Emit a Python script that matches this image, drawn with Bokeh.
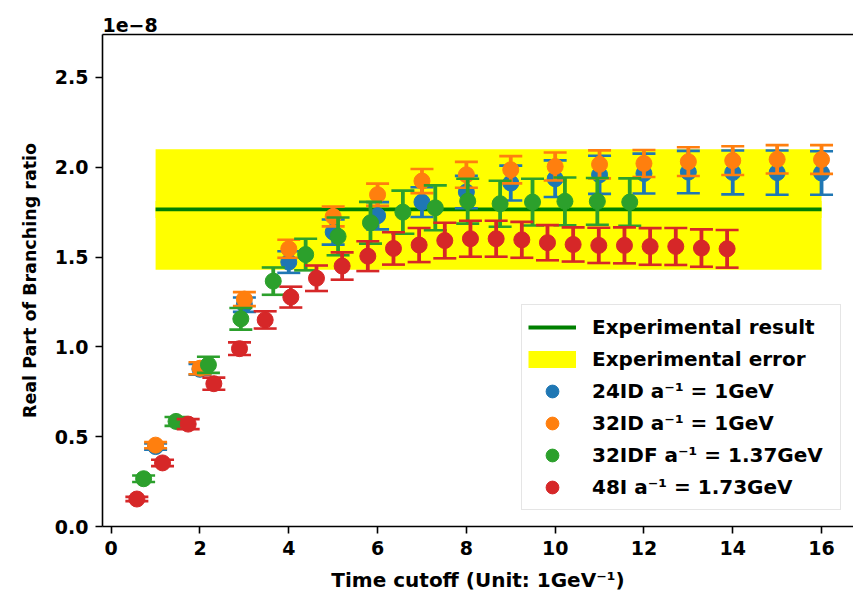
from bokeh.plotting import figure
from bokeh.models import (Range1d, LinearAxis, FixedTicker, Legend, LegendItem,
                          PrintfTickFormatter)
from bokeh.embed import file_html
from bokeh.resources import INLINE

# ---------------- data (values in units of 1e-8) ----------------
x_24id = [1, 2, 3, 4, 5, 6, 7, 8, 9, 10, 11, 12, 13, 14, 15, 16]
y_24id = [0.445, 0.875, 1.235, 1.472, 1.639, 1.730, 1.806, 1.862, 1.912, 1.936,
          1.958, 1.965, 1.973, 1.971, 1.970, 1.968]
e_24id = [0.017, 0.030, 0.040, 0.060, 0.070, 0.076, 0.083, 0.090, 0.097, 0.102,
          0.106, 0.111, 0.118, 0.122, 0.123, 0.121]

x_32id = [1, 2, 3, 4, 5, 6, 7, 8, 9, 10, 11, 12, 13, 14, 15, 16]
y_32id = [0.453, 0.881, 1.266, 1.546, 1.726, 1.847, 1.923, 1.958, 1.986, 2.004,
          2.016, 2.021, 2.031, 2.037, 2.044, 2.043]
e_32id = [0.017, 0.033, 0.039, 0.050, 0.055, 0.062, 0.067, 0.072, 0.076, 0.078,
          0.078, 0.075, 0.080, 0.080, 0.079, 0.080]

x_32idf = [0.73, 1.46, 2.19, 2.92, 3.65, 4.38, 5.11, 5.84, 6.57, 7.30, 8.03, 8.76,
           9.49, 10.22, 10.95, 11.68]
y_32idf = [0.266, 0.585, 0.900, 1.156, 1.366, 1.514, 1.615, 1.691, 1.750, 1.774,
           1.811, 1.797, 1.806, 1.810, 1.810, 1.806]
e_32idf = [0.018, 0.025, 0.045, 0.060, 0.076, 0.088, 0.105, 0.116, 0.120, 0.125,
           0.125, 0.128, 0.130, 0.133, 0.130, 0.132]

x_48i = [0.578, 1.156, 1.734, 2.312, 2.890, 3.468, 4.046, 4.624, 5.202, 5.780,
         6.358, 6.936, 7.514, 8.092, 8.671, 9.249, 9.827, 10.405, 10.983, 11.561,
         12.139, 12.717, 13.295, 13.873]
y_48i = [0.153, 0.354, 0.570, 0.795, 0.990, 1.150, 1.277, 1.382, 1.450, 1.505,
         1.548, 1.567, 1.592, 1.602, 1.602, 1.596, 1.580, 1.570, 1.565, 1.565,
         1.559, 1.559, 1.550, 1.546]
e_48i = [0.012, 0.018, 0.028, 0.034, 0.035, 0.048, 0.058, 0.071, 0.076, 0.083,
         0.090, 0.095, 0.099, 0.100, 0.100, 0.100, 0.098, 0.095, 0.098, 0.100,
         0.102, 0.103, 0.104, 0.105]

exp_x = [1, 16]
exp_value = 1.765
exp_error = 0.335

series_labels = ["24ID a⁻¹ = 1GeV", "32ID a⁻¹ = 1GeV",
                 "32IDF a⁻¹ = 1.37GeV", "48I a⁻¹ = 1.73GeV"]
series_colors = ["#1f77b4", "#ff7f0e", "#2ca02c", "#d62728"]
x_ticks = [0, 2, 4, 6, 8, 10, 12, 14, 16]
y_ticks = [0.0, 0.5, 1.0, 1.5, 2.0, 2.5]

FONT = "DejaVu Sans"

p = figure(width=853, height=596, output_backend="svg", toolbar_location=None,
           x_range=Range1d(-0.196, 16.72), y_range=Range1d(0, 2.739),
           min_border_left=102, min_border_right=0, min_border_top=34,
           min_border_bottom=70)
p.outline_line_color = None
p.xgrid.visible = False
p.ygrid.visible = False

p.title.text = "1e−8"
p.title.align = "left"
p.title.text_font = FONT
p.title.text_font_size = "19px"
p.title.text_font_style = "bold"
p.title.text_color = "black"
p.title.standoff = 6
p.title.offset = 0

for ax in (p.xaxis[0], p.yaxis[0]):
    ax.axis_line_width = 1.6
    ax.major_tick_line_width = 1.6
    ax.major_tick_out = 7
    ax.major_tick_in = 0
    ax.minor_tick_line_color = None
    ax.major_label_text_font = FONT
    ax.major_label_text_font_size = "19px"
    ax.major_label_text_font_style = "bold"
    ax.major_label_text_color = "black"
    ax.axis_label_text_font = FONT
    ax.axis_label_text_color = "black"
    ax.major_label_standoff = 7

p.xaxis[0].ticker = FixedTicker(ticks=x_ticks)
p.yaxis[0].ticker = FixedTicker(ticks=y_ticks)
p.yaxis[0].formatter = PrintfTickFormatter(format="%.1f")
p.xaxis[0].axis_label = "Time cutoff (Unit: 1GeV⁻¹)"
p.xaxis[0].axis_label_text_font_size = "20px"
p.xaxis[0].axis_label_text_font_style = "bold"
p.yaxis[0].axis_label = "Real Part of Branching ratio"
p.yaxis[0].axis_label_text_font_size = "17.5px"
p.yaxis[0].axis_label_text_font_style = "bold"
p.xaxis[0].axis_label_standoff = 10
p.yaxis[0].axis_label_standoff = 12

top = LinearAxis(ticker=FixedTicker(ticks=[]), major_tick_line_color=None,
                 minor_tick_line_color=None, axis_line_width=1.6,
                 major_label_standoff=0)
p.add_layout(top, "above")

# experimental band and line (a yellow stroke hidden under the band gives the
# legend its flat yellow patch)
band_key = p.line(exp_x, [exp_value] * 2, line_color="#ffff00", line_width=17,
                  line_cap="butt")
band = p.varea(x=exp_x, y1=[exp_value - exp_error] * 2, y2=[exp_value + exp_error] * 2,
               fill_color="#ffff00")
line = p.line(exp_x, [exp_value] * 2, line_color="#008000", line_width=3.8)

items = [LegendItem(label="Experimental result", renderers=[line]),
         LegendItem(label="Experimental error", renderers=[band_key])]

series = [(x_24id, y_24id, e_24id), (x_32id, y_32id, e_32id),
          (x_32idf, y_32idf, e_32idf), (x_48i, y_48i, e_48i)]
for (xs, ys, es), lab, col in zip(series, series_labels, series_colors):
    lo = [y - e for y, e in zip(ys, es)]
    hi = [y + e for y, e in zip(ys, es)]
    p.segment(x0=xs, y0=lo, x1=xs, y1=hi, line_color=col, line_width=3.8)
    p.scatter(xs, lo, marker="dash", size=23, line_color=col, line_width=2.6)
    p.scatter(xs, hi, marker="dash", size=23, line_color=col, line_width=2.6)
    r = p.scatter(xs, ys, marker="circle", size=16, fill_color=col, line_color=col)
    items.append(LegendItem(label=lab, renderers=[r]))

legend = Legend(items=items, location=(419, 16), label_text_font=FONT,
                label_text_font_size="20px", label_text_font_style="bold",
                label_text_color="black",
                glyph_width=48, glyph_height=32, label_height=24, label_width=242,
                spacing=0, padding=6, label_standoff=16, margin=0,
                border_line_color="#cccccc", border_line_width=1.3,
                background_fill_alpha=0.8)
p.add_layout(legend, "center")

open("out.html", "w").write(file_html(p, INLINE))
